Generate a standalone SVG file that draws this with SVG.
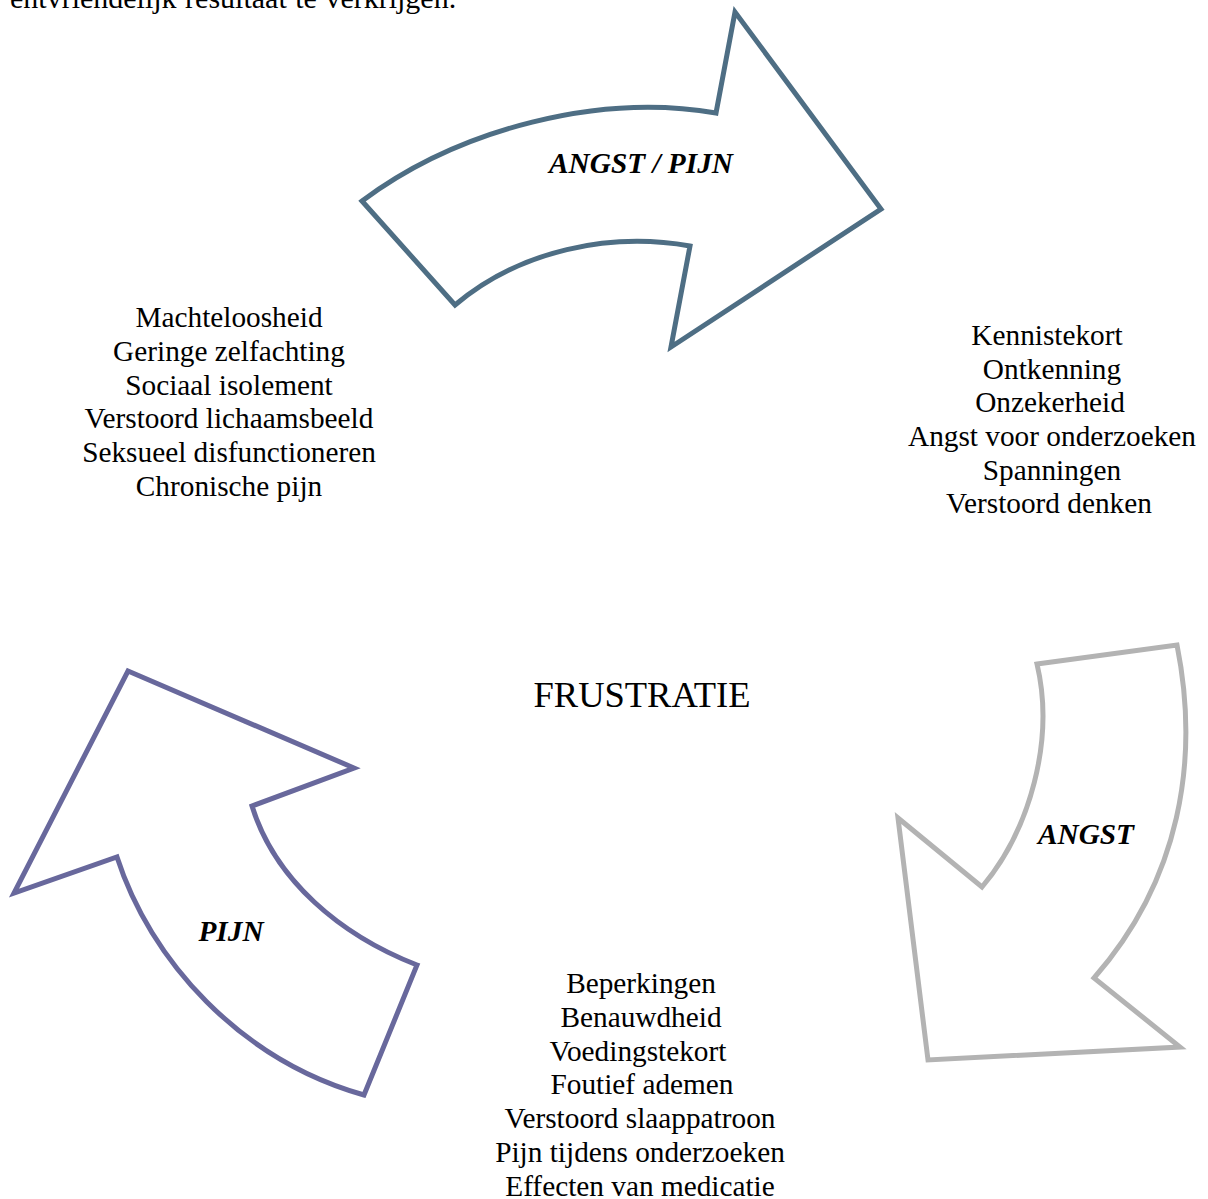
<svg xmlns="http://www.w3.org/2000/svg" width="1208" height="1199" viewBox="0 0 1208 1199">
<style>
.t{font-family:"Liberation Serif","Times New Roman",serif;font-size:29.3px;fill:#000;text-anchor:middle}
.b{font-family:"Liberation Serif","Times New Roman",serif;font-size:29.3px;font-weight:bold;font-style:italic;fill:#000;text-anchor:middle}
.arr{fill:#fff;stroke-width:5;stroke-linejoin:miter}
</style>
<rect width="1208" height="1199" fill="#fff"/>
<text class="t" x="10" y="8" style="text-anchor:start;font-size:30px;word-spacing:1px">entvriendelijk resultaat te verkrijgen.</text>
<g id="connectors">
<g id="arrow-top">
<path class="arr" stroke="#4e6e84" d="M362,201 C460,128 600,93 716,113 L735,12 L881,209 L671,347 L690,246 C610,232 520,250 455,305 Z"/>
<text class="b" x="641" y="173">ANGST / PIJN</text>
</g>
<g id="arrow-right">
<path class="arr" stroke="#b3b3b3" d="M1037,664 L1177,645 C1200,760 1180,880 1094,978 L1180,1047 L928,1060 L898,818 L982,887 C1030,830 1055,740 1037,664 Z"/>
<text class="b" x="1086" y="844">ANGST</text>
</g>
<g id="arrow-left">
<path class="arr" stroke="#68689c" d="M128,671 L354,768 L252,806 C275,880 340,935 417,965 L364,1095 C240,1060 150,960 117,857 L14,893 Z"/>
<text class="b" x="231" y="941">PIJN</text>
</g>
</g>
<g id="node-left">
<text class="t" x="229" y="327">Machteloosheid</text>
<text class="t" x="229" y="361">Geringe zelfachting</text>
<text class="t" x="229" y="395">Sociaal isolement</text>
<text class="t" x="229" y="428">Verstoord lichaamsbeeld</text>
<text class="t" x="229" y="462">Seksueel disfunctioneren</text>
<text class="t" x="229" y="496">Chronische pijn</text>
</g>
<g id="node-right">
<text class="t" x="1047" y="345">Kennistekort</text>
<text class="t" x="1052" y="379">Ontkenning</text>
<text class="t" x="1050" y="412">Onzekerheid</text>
<text class="t" x="1052" y="446">Angst voor onderzoeken</text>
<text class="t" x="1052" y="480">Spanningen</text>
<text class="t" x="1049" y="513">Verstoord denken</text>
</g>
<g id="node-center">
<text class="t" x="642" y="707" style="font-size:36.5px">FRUSTRATIE</text>
</g>
<g id="node-bottom">
<text class="t" x="641" y="993">Beperkingen</text>
<text class="t" x="641" y="1027">Benauwdheid</text>
<text class="t" x="638" y="1061">Voedingstekort</text>
<text class="t" x="642" y="1094">Foutief ademen</text>
<text class="t" x="640" y="1128">Verstoord slaappatroon</text>
<text class="t" x="640" y="1162">Pijn tijdens onderzoeken</text>
<text class="t" x="640" y="1196">Effecten van medicatie</text>
</g>
</svg>
